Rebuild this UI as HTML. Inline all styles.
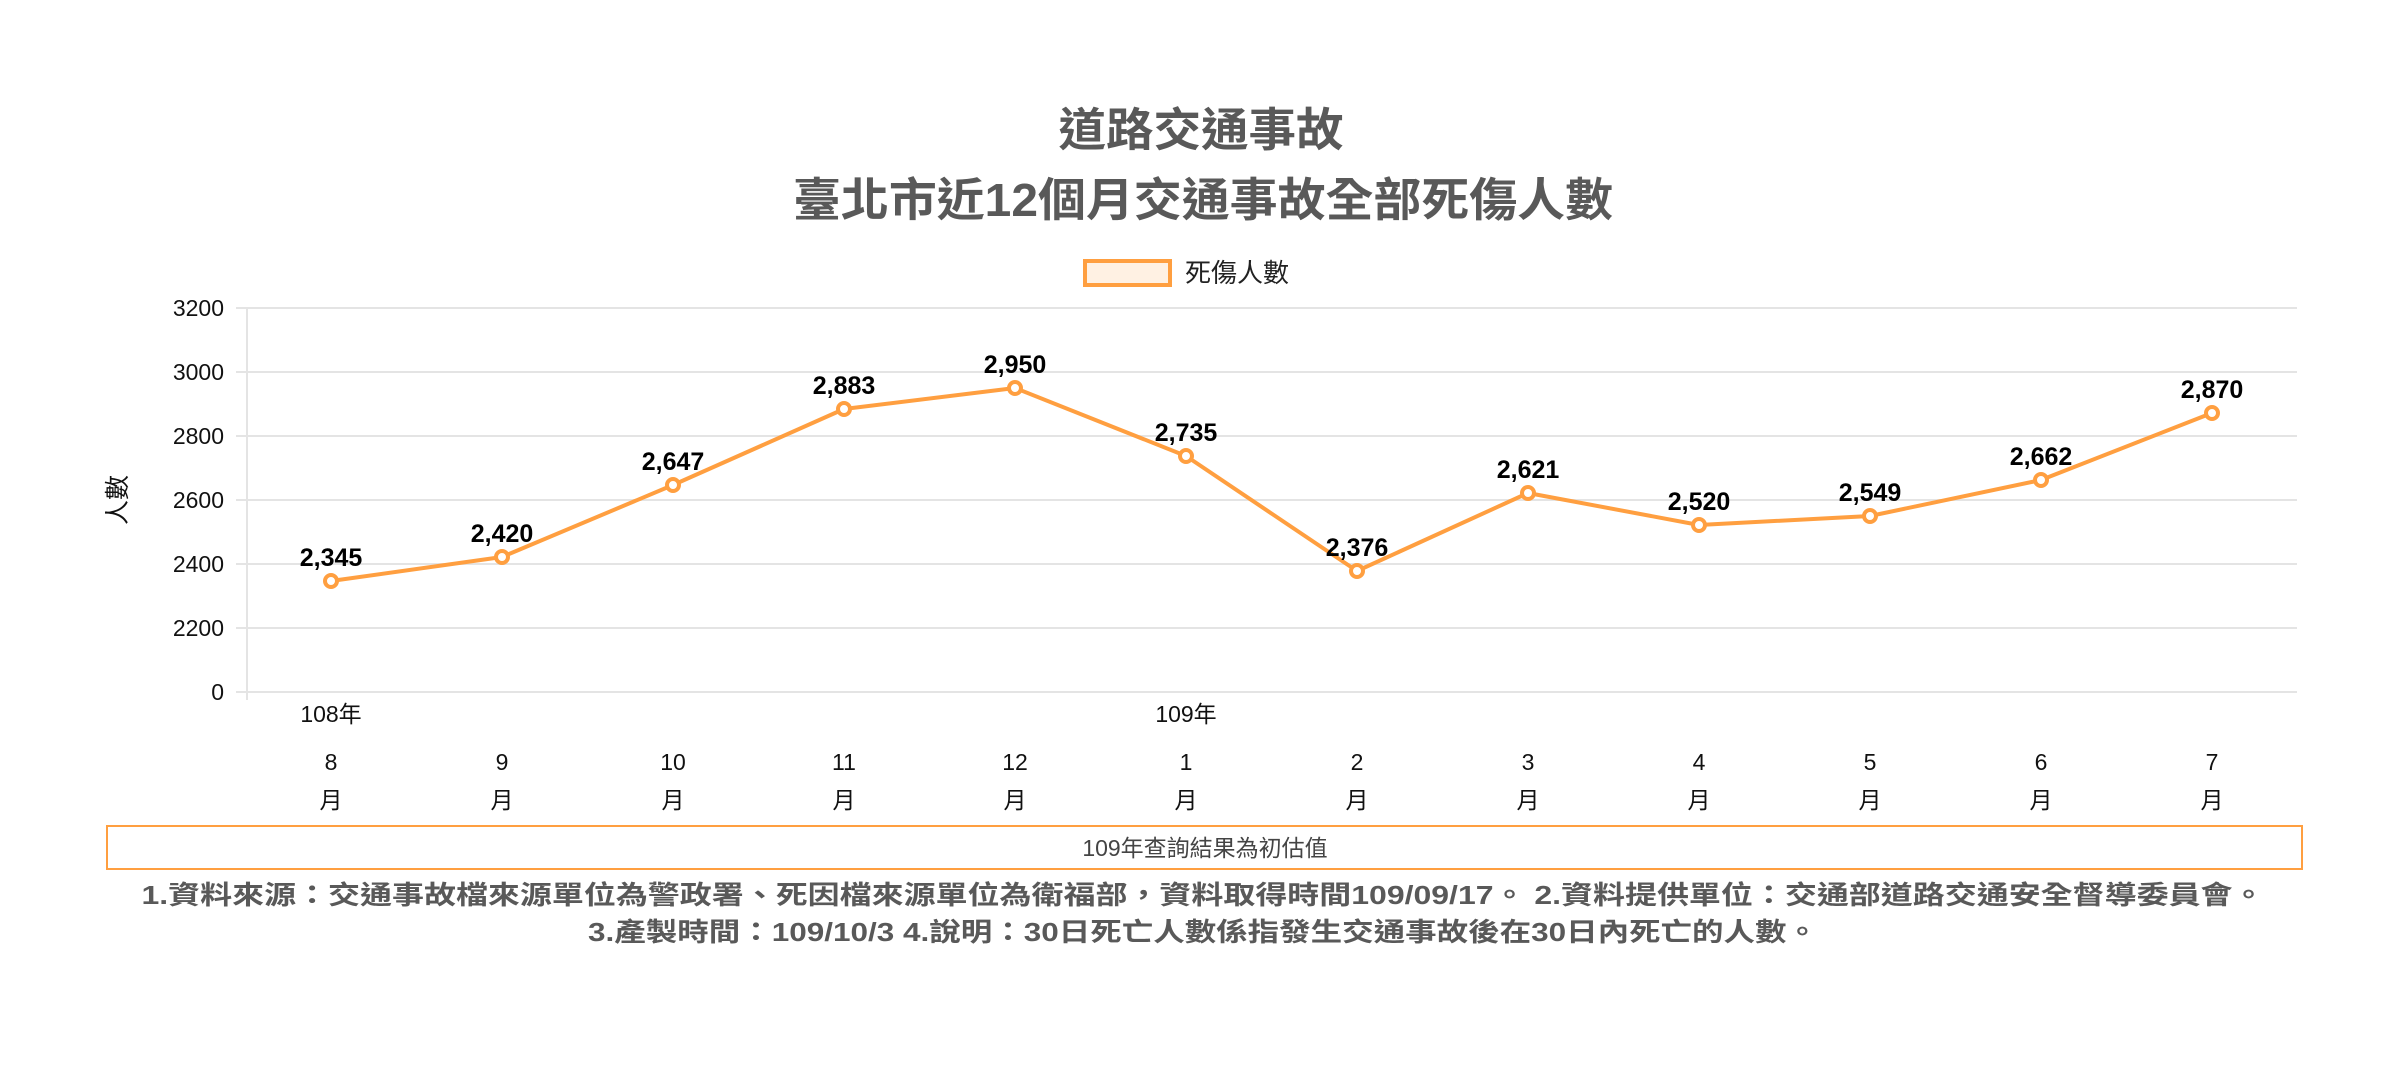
<!DOCTYPE html>
<html><head><meta charset="utf-8"><style>
html,body{margin:0;padding:0;background:#fff;}
svg{display:block;}
text{font-family:"Liberation Sans","Noto Sans CJK TC",sans-serif;}
</style></head><body>
<svg width="2400" height="1068" viewBox="0 0 2400 1068" xmlns="http://www.w3.org/2000/svg">
<rect width="2400" height="1068" fill="#fff"/>
<g fill="#595959" font-weight="bold" text-anchor="middle">
<text x="1201" y="146" font-size="46" textLength="285" lengthAdjust="spacingAndGlyphs">道路交通事故</text>
<text x="1203" y="216" font-size="46" textLength="820" lengthAdjust="spacingAndGlyphs">臺北市近12個月交通事故全部死傷人數</text>
</g>
<rect x="1085" y="261" width="85" height="24" fill="#fff1e3" stroke="#ff9f40" stroke-width="4"/>
<text x="1185" y="282" font-size="26" fill="#222">死傷人數</text>
<g stroke="#e4e4e4" stroke-width="2">
<line x1="236" y1="308" x2="2297" y2="308"/>
<line x1="236" y1="372" x2="2297" y2="372"/>
<line x1="236" y1="436" x2="2297" y2="436"/>
<line x1="236" y1="500" x2="2297" y2="500"/>
<line x1="236" y1="564" x2="2297" y2="564"/>
<line x1="236" y1="628" x2="2297" y2="628"/>
<line x1="236" y1="692" x2="2297" y2="692"/>
<line x1="247" y1="308" x2="247" y2="700"/>
</g>
<g font-size="23" fill="#111" text-anchor="end">
<text x="224" y="316">3200</text>
<text x="224" y="380">3000</text>
<text x="224" y="444">2800</text>
<text x="224" y="508">2600</text>
<text x="224" y="572">2400</text>
<text x="224" y="636">2200</text>
<text x="224" y="700">0</text>
</g>
<text transform="translate(126,500) rotate(-90)" font-size="25" fill="#111" text-anchor="middle">人數</text>
<polyline fill="none" stroke="#ff9f40" stroke-width="4" stroke-linejoin="round" points="331,581 502,557 673,485 844,409 1015,388 1186,456 1357,571 1528,493 1699,525 1870,516 2041,480 2212,413"/>
<g fill="#fff" stroke="#ff9f40" stroke-width="4">
<circle cx="331" cy="581" r="6"/><circle cx="502" cy="557" r="6"/><circle cx="673" cy="485" r="6"/><circle cx="844" cy="409" r="6"/><circle cx="1015" cy="388" r="6"/><circle cx="1186" cy="456" r="6"/><circle cx="1357" cy="571" r="6"/><circle cx="1528" cy="493" r="6"/><circle cx="1699" cy="525" r="6"/><circle cx="1870" cy="516" r="6"/><circle cx="2041" cy="480" r="6"/><circle cx="2212" cy="413" r="6"/>
</g>
<g font-size="25" font-weight="bold" fill="#000" text-anchor="middle">
<text x="331" y="566">2,345</text><text x="502" y="542">2,420</text><text x="673" y="470">2,647</text><text x="844" y="394">2,883</text><text x="1015" y="373">2,950</text><text x="1186" y="441">2,735</text><text x="1357" y="556">2,376</text><text x="1528" y="478">2,621</text><text x="1699" y="510">2,520</text><text x="1870" y="501">2,549</text><text x="2041" y="465">2,662</text><text x="2212" y="398">2,870</text>
</g>
<g font-size="23" fill="#111" text-anchor="middle">
<text x="331" y="722">108年</text><text x="1186" y="722">109年</text>
<text x="331" y="770">8</text><text x="502" y="770">9</text><text x="673" y="770">10</text><text x="844" y="770">11</text><text x="1015" y="770">12</text><text x="1186" y="770">1</text><text x="1357" y="770">2</text><text x="1528" y="770">3</text><text x="1699" y="770">4</text><text x="1870" y="770">5</text><text x="2041" y="770">6</text><text x="2212" y="770">7</text>
<text x="331" y="808">月</text><text x="502" y="808">月</text><text x="673" y="808">月</text><text x="844" y="808">月</text><text x="1015" y="808">月</text><text x="1186" y="808">月</text><text x="1357" y="808">月</text><text x="1528" y="808">月</text><text x="1699" y="808">月</text><text x="1870" y="808">月</text><text x="2041" y="808">月</text><text x="2212" y="808">月</text>
</g>
<rect x="107" y="826" width="2195" height="43" fill="#fff" stroke="#ff9f40" stroke-width="2"/>
<text x="1205" y="856" font-size="23" fill="#444" text-anchor="middle">109年查詢結果為初估值</text>
<g fill="#595959" font-weight="bold" font-size="26" text-anchor="middle">
<text x="1203" y="904" textLength="2123" lengthAdjust="spacingAndGlyphs">1.資料來源：交通事故檔來源單位為警政署、死因檔來源單位為衛福部，資料取得時間109/09/17。 2.資料提供單位：交通部道路交通安全督導委員會。</text>
<text x="1203" y="941" textLength="1230" lengthAdjust="spacingAndGlyphs">3.產製時間：109/10/3 4.說明：30日死亡人數係指發生交通事故後在30日內死亡的人數。</text>
</g>
</svg>
</body></html>
